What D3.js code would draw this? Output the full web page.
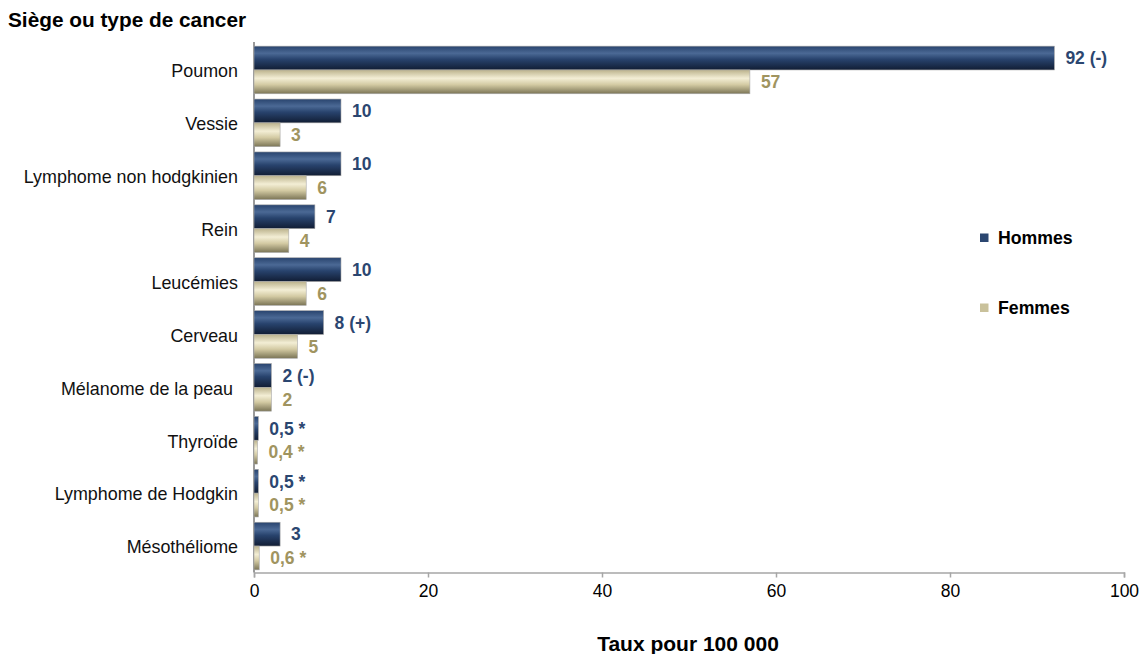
<!DOCTYPE html>
<html lang="fr">
<head>
<meta charset="utf-8">
<script src="https://cdn.jsdelivr.net/npm/d3@7"></script>
<style>
  html, body { margin: 0; padding: 0; background: #fff; }
  svg { display: block; font-family: Arial, "Liberation Sans", sans-serif; }
</style>
</head>
<body>
<svg id="chart" width="1139" height="654"></svg>
<script>
// Sièges / types de cancer, du haut vers le bas
const categories = [
  "Poumon", "Vessie", "Lymphome non hodgkinien", "Rein", "Leucémies",
  "Cerveau", "Mélanome de la peau ", "Thyroïde", "Lymphome de Hodgkin", "Mésothéliome"
];
// Taux pour 100 000
const hommes = [92, 10, 10, 7, 10, 8, 2, 0.5, 0.5, 3];
const femmes = [57, 3, 6, 4, 6, 5, 2, 0.4, 0.5, 0.6];
// Annotations accompagnant les valeurs
const hommesNotes = [" (-)", "", "", "", "", " (+)", " (-)", " *", " *", ""];
const femmesNotes = ["", "", "", "", "", "", "", " *", " *", " *"];
const series = ["Hommes", "Femmes"];
const xTicks = [0, 20, 40, 60, 80, 100];

const fmt = v => String(v).replace(".", ",");

const svg = d3.select("#chart");
const plotLeft = 254, plotRight = 1124, plotTop = 43.5, plotBottom = 572.5;

const x = d3.scaleLinear().domain([0, 100]).range([plotLeft, plotRight]);
const y = d3.scaleBand().domain(categories).range([plotTop, plotBottom])
  .paddingInner(0.1).paddingOuter(0.05);
const sub = d3.scaleBand().domain(series).range([0, y.bandwidth()]);

// Dégradés pour l'effet cylindrique des barres
const defs = svg.append("defs");
function gradient(id, stops) {
  const g = defs.append("linearGradient").attr("id", id)
    .attr("x1", 0).attr("y1", 0).attr("x2", 0).attr("y2", 1);
  stops.forEach(([o, c]) => g.append("stop").attr("offset", o).attr("stop-color", c));
}
gradient("gH", [[0, "#29446e"], [0.3, "#4b6995"], [0.55, "#28436d"], [1, "#111d34"]]);
gradient("gF", [[0, "#bbb28c"], [0.35, "#f3eed5"], [0.62, "#d3caa3"], [1, "#7b7556"]]);

const fills = { Hommes: "url(#gH)", Femmes: "url(#gF)" };
const labelColors = { Hommes: "#2b4670", Femmes: "#a09460" };
const swatch = { Hommes: "#2b4670", Femmes: "#c9c19b" };

// Titre de l'axe des catégories
svg.append("text").attr("x", 8).attr("y", 27)
  .attr("font-size", 20.8).attr("font-weight", "bold").attr("fill", "#000")
  .text("Siège ou type de cancer");

// Axe horizontal
const xAxis = svg.append("g").attr("transform", `translate(0,${plotBottom})`)
  .call(d3.axisBottom(x).tickValues(xTicks).tickSize(5).tickPadding(7).tickFormat(d => d));
xAxis.select(".domain").attr("stroke", "#a6a6a6").attr("stroke-width", 1.5);
xAxis.selectAll(".tick line").attr("stroke", "#a6a6a6").attr("stroke-width", 1.5);
xAxis.selectAll(".tick text").attr("font-size", 17.5).attr("fill", "#000")
  .attr("font-family", "Arial, 'Liberation Sans', sans-serif");

// Axe vertical
svg.append("line").attr("x1", plotLeft).attr("x2", plotLeft).attr("y1", plotTop - 1.5).attr("y2", plotBottom)
  .attr("stroke", "#9a9a9a").attr("stroke-width", 2);

// Libellés des catégories
svg.append("g").selectAll("text").data(categories).join("text")
  .attr("x", 238)
  .attr("y", d => y(d) + y.bandwidth() / 2 + 1)
  .attr("dy", "0.35em")
  .attr("text-anchor", "end")
  .attr("font-size", 17.9)
  .attr("fill", "#111")
  .style("white-space", "pre")
  .text(d => d);

// Barres et étiquettes de valeur
const rows = categories.map((c, i) => ({
  cat: c,
  vals: [
    { s: "Hommes", v: hommes[i], note: hommesNotes[i] },
    { s: "Femmes", v: femmes[i], note: femmesNotes[i] }
  ]
}));

const groups = svg.append("g").selectAll("g").data(rows).join("g")
  .attr("transform", d => `translate(0,${y(d.cat)})`);

groups.selectAll("rect").data(d => d.vals).join("rect")
  .attr("x", x(0))
  .attr("y", d => sub(d.s))
  .attr("width", d => x(d.v) - x(0))
  .attr("height", sub.bandwidth())
  .attr("fill", d => fills[d.s])
  .attr("stroke", "#a8a8a8")
  .attr("stroke-width", 0.6);

groups.selectAll("text").data(d => d.vals).join("text")
  .attr("x", d => x(d.v) + 11)
  .attr("y", d => sub(d.s) + sub.bandwidth() / 2)
  .attr("dy", "0.36em")
  .attr("font-size", 17.5)
  .attr("font-weight", "bold")
  .attr("fill", d => labelColors[d.s])
  .style("white-space", "pre")
  .text(d => fmt(d.v) + d.note);

// Légende
const legendY = [238, 308];
const legend = svg.append("g").selectAll("g").data(series).join("g")
  .attr("transform", (d, i) => `translate(980,${legendY[i]})`);
legend.append("rect").attr("x", 0).attr("y", -4.5).attr("width", 8.5).attr("height", 8.5)
  .attr("fill", d => swatch[d]);
legend.append("text").attr("x", 18).attr("dy", "0.35em")
  .attr("font-size", 17.7).attr("font-weight", "bold").attr("fill", "#000")
  .text(d => d);

// Titre de l'axe des valeurs
svg.append("text").attr("x", 688).attr("y", 651)
  .attr("text-anchor", "middle").attr("font-size", 21).attr("font-weight", "bold")
  .attr("fill", "#000").text("Taux pour 100 000");
</script>
</body>
</html>
